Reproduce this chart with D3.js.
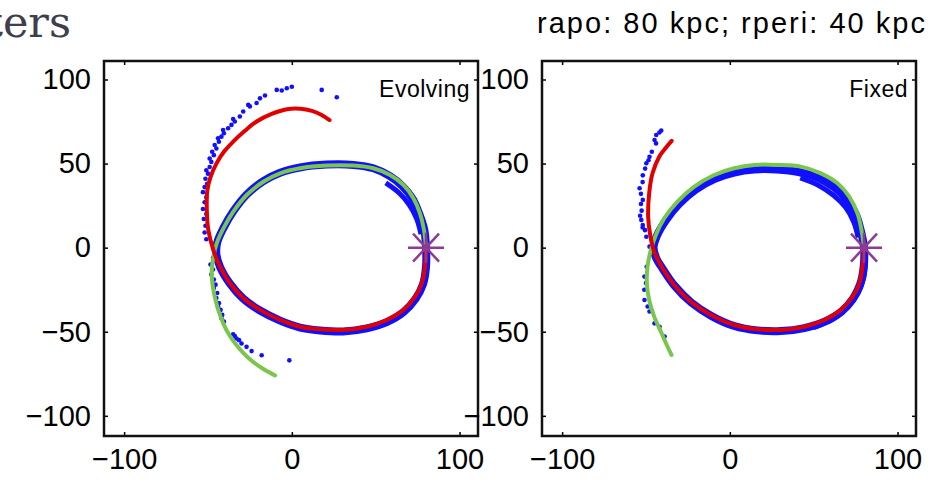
<!DOCTYPE html>
<html>
<head>
<meta charset="utf-8">
<script src="https://cdn.jsdelivr.net/npm/d3@7"></script>
<style>
  body { margin: 0; background: #fff; }
  svg { display: block; }
</style>
</head>
<body>
<svg id="chart" width="940" height="484"></svg>
<script>
// axis ticks (kpc)
var xTicks = [-100, 0, 100];
var yTicks = [-100, -50, 0, 50, 100];
var starPoint = [80, 0];

// "Evolving" panel, values
var bandEvolving = [[80,0],[79,10.5],[76,20],[72,29],[66,36.5],[58.5,42.5],[48.6,47.2],[36.7,49.2],[20.8,49.4],[4.9,47.7],[-7,44.6],[-17,39.6],[-26.9,31.6],[-34.9,21.6],[-40.8,11.6],[-44.5,3],[-45,-4],[-42.8,-11.5],[-36.9,-21.4],[-28.9,-30.4],[-19,-37.4],[-7,-43.4],[4.9,-47.5],[16.8,-49.2],[30.7,-49.8],[44.7,-48],[56.6,-44.3],[66.5,-38.4],[73.8,-30.4],[78.2,-21.8],[80,-11.3]];
// stretches where the particle band is thicker
var bandExtraEvolving = [[[77,8],[74.5,17],[70,25.5],[64,32.5],[56,38.5]], [[80.8,-6],[80,-16],[77,-25],[71.5,-33.5],[63,-41],[52,-46.5]]];
var redEvolving = [[80,0],[79.4,-11.3],[77.5,-21.2],[73.5,-29.1],[66.5,-37],[56.6,-43],[44.7,-47],[30.7,-48.9],[16.8,-48.5],[4.9,-47],[-7,-43],[-19,-37],[-28.9,-30.1],[-36.9,-21.2],[-42.8,-11.3],[-46.8,-1.4],[-49.8,10.5],[-50.7,22.4],[-50.4,34],[-48.5,42],[-45,50],[-40.5,57],[-35,63],[-28,69.5],[-21,75],[-12,79.5],[-3,82.3],[5,82.6],[12,81.3],[17.5,79],[22.5,75.8]];
var greenEvolving = [[80,0],[78.8,10.5],[76.4,20.4],[72.5,29.4],[66.5,37.3],[58.6,43.2],[48.6,47.2],[36.7,48.8],[20.8,48.8],[4.9,47.2],[-7,44.2],[-17,39.2],[-26.9,31.3],[-34.9,21.4],[-40.8,11.5],[-44.8,2.6],[-46.8,-5.4],[-47.8,-15.2],[-46.8,-25.2],[-45,-33],[-42.5,-41],[-39,-49],[-34.5,-56],[-29,-62.5],[-23,-68],[-16.5,-72.5],[-10,-76]];
var tailEvolving = [[-51,5],[-52,9],[-51.5,13],[-52.5,17],[-51,20],[-53,23],[-52,27],[-51,30],[-53,33],[-52,36],[-50.5,38],[-51.5,41],[-50,44],[-51,46],[-49,48],[-48,51],[-49,53],[-46.5,55],[-47.5,57],[-45,59],[-46,61],[-43.5,63],[-44,65],[-42,66],[-40.5,68],[-41,70],[-38,71],[-36,73],[-34,75],[-35,76.5],[-31,78],[-29,81],[-26,84.9],[-25,84],[-21,86],[-19,88.8],[-16,90.5],[-9,93.8],[-6,93.5],[-3,94.8],[0,95.7],[17.8,93.8],[26.8,89.4],
  [-47,-6],[-48.5,-10],[-47,-13],[-48,-16],[-46.5,-19],[-45.5,-22],[-46.5,-24],[-44.5,-27],[-45,-30],[-43.5,-33],[-44,-35],[-42.5,-37],[-41.5,-40],[-42,-42],[-40.5,-44],[-35,-51.5],[-34,-52.5],[-33,-54],[-31.5,-55],[-30,-57],[-27,-59],[-24,-61.5],[-18,-64],[-1.5,-67]];

// "Fixed" panel
var bandFixed = [[80,0],[78,10.5],[75,20],[69.5,29],[62,36],[52.5,41.5],[41,45],[28,46.5],[14.5,46.5],[2.6,44.7],[-9,41],[-20.5,34.5],[-30.3,26],[-38,16.5],[-43.5,7],[-45.5,0],[-44,-6],[-40,-12.6],[-33,-22.6],[-23,-32.6],[-11,-40.6],[2.6,-46.6],[16.5,-49.2],[30.4,-49.6],[44.4,-47.8],[56.5,-44],[66.5,-38],[73.6,-30],[77.8,-21.5],[79.8,-11.3]];
var bandExtraFixed = [[[76.5,6],[74,15],[69,24],[62,31],[53,37],[42,41.5]], [[81,-8],[79.8,-18],[76.5,-27],[70.5,-35.5],[61.5,-42.5],[50,-47.5]]];
var redFixed = [[80,0],[79.1,-11.3],[77.2,-21.2],[73.2,-29.1],[66.2,-37],[56.3,-43],[44.4,-47],[30.4,-48.9],[16.5,-48.5],[2.6,-46],[-11.3,-40],[-23.3,-32.1],[-33.2,-22.2],[-40.1,-12.3],[-45.1,-2.4],[-47.5,7.6],[-48.7,18.4],[-48.1,32.3],[-46.1,44.2],[-42.1,54.1],[-38.5,59],[-34.7,63.5]];
var greenFixed = [[80,0],[78.5,10.5],[76.1,20.4],[71.2,30.3],[64.2,38.3],[54.3,44.2],[42.3,48.2],[28.4,49.2],[14.5,49.2],[2.6,47.2],[-9.3,43.2],[-21.2,36.3],[-31.2,27.4],[-39.1,17.5],[-44.1,7.6],[-47.1,-1.4],[-49.1,-11.3],[-49.5,-21.2],[-48.1,-31.1],[-45.1,-41],[-41.1,-50],[-38,-57],[-34.8,-63.8]];
var tailFixed = [[-40.9,69.6],[-42,68.5],[-43.9,67],[-44.9,64],[-44,62],[-46.5,57],[-47.9,54],[-48.5,52],[-49.8,50.2],[-50.5,47],[-51.9,43],[-52,39],[-53.8,35.3],[-53,32],[-51.9,28.4],[-53,26],[-52.6,22],[-53.5,19],[-52.8,16.5],[-51.9,13.5],[-52,12],[-50.6,10.4],[-49.8,6.5],[-47.9,0.6],
  [-49.6,-11.4],[-50.9,-17.2],[-50,-21],[-51,-25],[-50.9,-31.1],[-49,-35],[-47.9,-38],[-44.9,-45],[-41.9,-47],[-38.9,-52.9]];

var panels = [
    { label: "Evolving", left: 104, band: bandEvolving, extra: bandExtraEvolving, red: redEvolving, green: greenEvolving, tail: tailEvolving },
    { label: "Fixed", left: 542, band: bandFixed, extra: bandExtraFixed, red: redFixed, green: greenFixed, tail: tailFixed }
];

var boxW = 374, boxTop = 61, boxBottom = 436;
var fontSize = 29;
var blue = "#1010ff";

var svg = d3.select("#chart");

// cut-off page text above the figure
svg.append("text")
    .attr("x", 71)
    .attr("y", 37)
    .style("text-anchor", "end")
    .style("font-family", "'DejaVu Serif', serif")
    .style("font-size", "43px")
    .style("fill", "#3e3e4c")
    .text("ters");

svg.append("text")
    .attr("x", 731)
    .attr("y", 33)
    .style("text-anchor", "middle")
    .style("font-family", "'Liberation Sans', Arial, sans-serif")
    .style("font-size", "29px")
    .attr("textLength", 388)
    .attr("lengthAdjust", "spacing")
    .text("rapo: 80 kpc; rperi: 40 kpc");

panels.forEach(function (p) {
    var x = d3.scaleLinear().domain([-112, 111]).range([p.left, p.left + boxW]);
    var y = d3.scaleLinear().domain([-112, 111]).range([boxBottom, boxTop]);

    var g = svg.append("g");
    var line = d3.line()
        .x(d => x(d[0]))
        .y(d => y(d[1]))
        .curve(d3.curveCatmullRom);
    var closedLine = d3.line()
        .x(d => x(d[0]))
        .y(d => y(d[1]))
        .curve(d3.curveCatmullRomClosed);

    // blue particle stream: dense band + loose tail particles
    g.append("path")
        .attr("d", closedLine(p.band))
        .attr("fill", "none")
        .attr("stroke", blue)
        .attr("stroke-width", 8);

    g.selectAll(".extra")
        .data(p.extra)
        .enter().append("path")
        .attr("d", d => line(d))
        .attr("fill", "none")
        .attr("stroke", blue)
        .attr("stroke-width", 5);

    g.selectAll(".tail")
        .data(p.tail)
        .enter().append("circle")
        .attr("cx", d => x(d[0]))
        .attr("cy", d => y(d[1]))
        .attr("r", 2.3)
        .attr("fill", blue);

    g.append("path")
        .attr("d", line(p.green))
        .attr("fill", "none")
        .attr("stroke", "#79c64a")
        .attr("stroke-width", 4)
        .attr("stroke-linecap", "round");

    g.append("path")
        .attr("d", line(p.red))
        .attr("fill", "none")
        .attr("stroke", "#e00000")
        .attr("stroke-width", 4)
        .attr("stroke-linecap", "round");

    // progenitor marker (asterisk)
    var sx = x(starPoint[0]), sy = y(starPoint[1]);
    [[18, 0], [0, 15], [13, 14], [13, -14]].forEach(function (v) {
        g.append("line")
            .attr("x1", sx - v[0]).attr("y1", sy - v[1])
            .attr("x2", sx + v[0]).attr("y2", sy + v[1])
            .attr("stroke", "#8e3a92")
            .attr("stroke-width", 2.5);
    });

    // axes: ticks point inwards, labels only on left and bottom
    var axisFont = function (sel) {
        sel.select(".domain").remove();
        sel.selectAll("text")
            .style("font-family", "'Liberation Sans', Arial, sans-serif")
            .style("font-size", fontSize + "px")
            .style("fill", "#000");
        sel.selectAll("line").attr("stroke", "#000").attr("stroke-width", 1.5);
    };

    g.append("g")
        .attr("transform", "translate(0," + boxBottom + ")")
        .call(d3.axisBottom(x).tickValues(xTicks).tickSize(-4).tickPadding(12))
        .call(axisFont);
    g.append("g")
        .attr("transform", "translate(0," + boxTop + ")")
        .call(d3.axisTop(x).tickValues(xTicks).tickSize(-4).tickFormat(""))
        .call(axisFont);
    g.append("g")
        .attr("transform", "translate(" + p.left + ",0)")
        .call(d3.axisLeft(y).tickValues(yTicks).tickSize(-4).tickPadding(13))
        .call(axisFont);
    g.append("g")
        .attr("transform", "translate(" + (p.left + boxW) + ",0)")
        .call(d3.axisRight(y).tickValues(yTicks).tickSize(-4).tickFormat(""))
        .call(axisFont);

    g.append("rect")
        .attr("x", p.left)
        .attr("y", boxTop)
        .attr("width", boxW)
        .attr("height", boxBottom - boxTop)
        .attr("fill", "none")
        .attr("stroke", "#111")
        .attr("stroke-width", 2.5);

    g.append("text")
        .attr("x", p.left + boxW - 8)
        .attr("y", 97)
        .style("text-anchor", "end")
        .style("font-family", "'Liberation Sans', Arial, sans-serif")
        .style("font-size", "23px")
        .style("letter-spacing", "0.5px")
        .text(p.label);
});
</script>
</body>
</html>
